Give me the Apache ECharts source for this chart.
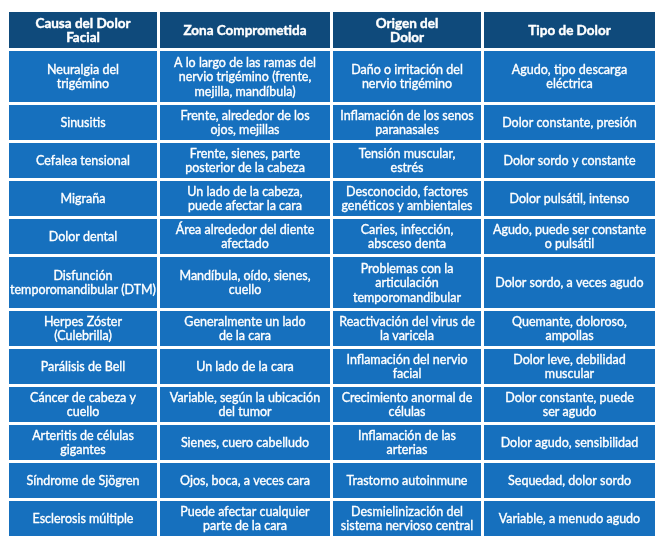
<!DOCTYPE html>
<html><head><meta charset="utf-8">
<script src="https://cdn.jsdelivr.net/npm/echarts@6/dist/echarts.min.js"></script>
<style>html,body{margin:0;padding:0;background:#fff}#c{width:669px;height:553px}</style>
</head><body><div id="c"></div>
<script>
const headers = ["Causa del Dolor\nFacial", "Zona Comprometida", "Origen del\nDolor", "Tipo de Dolor"];
const causas = ["Neuralgia del\ntrigémino","Sinusitis","Cefalea tensional","Migraña","Dolor dental","Disfunción\ntemporomandibular (DTM)","Herpes Zóster\n(Culebrilla)","Parálisis de Bell","Cáncer de cabeza y\ncuello","Arteritis de células\ngigantes","Síndrome de Sjögren","Esclerosis múltiple"];
const zonas = ["A lo largo de las ramas del\nnervio trigémino (frente,\nmejilla, mandíbula)","Frente, alrededor de los\nojos, mejillas","Frente, sienes, parte\nposterior de la cabeza","Un lado de la cabeza,\npuede afectar la cara","Área alrededor del diente\nafectado","Mandíbula, oído, sienes,\ncuello","Generalmente un lado\nde la cara","Un lado de la cara","Variable, según la ubicación\ndel tumor","Sienes, cuero cabelludo","Ojos, boca, a veces cara","Puede afectar cualquier\nparte de la cara"];
const origenes = ["Daño o irritación del\nnervio trigémino","Inflamación de los senos\nparanasales","Tensión muscular,\nestrés","Desconocido, factores\ngenéticos y ambientales","Caries, infección,\nabsceso denta","Problemas con la\narticulación\ntemporomandibular","Reactivación del virus de\nla varicela","Inflamación del nervio\nfacial","Crecimiento anormal de\ncélulas","Inflamación de las\narterias","Trastorno autoinmune","Desmielinización del\nsistema nervioso central"];
const tipos = ["Agudo, tipo descarga\neléctrica","Dolor constante, presión","Dolor sordo y constante","Dolor pulsátil, intenso","Agudo, puede ser constante\no pulsátil","Dolor sordo, a veces agudo","Quemante, doloroso,\nampollas","Dolor leve, debilidad\nmuscular","Dolor constante, puede\nser agudo","Dolor agudo, sensibilidad","Sequedad, dolor sordo","Variable, a menudo agudo"];

// layout (not data)
const colW = [148, 170, 148, 171];
const gap = 3;
const headerH = 36;
function rowH(lines){ return lines >= 3 ? 51 : 35; }

const columns = [causas, zonas, origenes, tipos];
const nRows = causas.length;
const rowHeights = [headerH];
for (let r = 0; r < nRows; r++) {
  let maxLines = 1;
  columns.forEach(c => { maxLines = Math.max(maxLines, c[r].split("\n").length); });
  rowHeights.push(rowH(maxLines));
}
const colX = []; let acc = 0;
colW.forEach(w => { colX.push(acc); acc += w + gap; });
const totalW = acc - gap;
const rowY = []; acc = 0;
rowHeights.forEach(h => { rowY.push(acc); acc += h + gap; });
const totalH = acc - gap;

const cells = [];
headers.forEach((h, c) => cells.push({ value: [c, 0], text: h, header: true }));
for (let r = 0; r < nRows; r++) columns.forEach((col, c) => cells.push({ value: [c, r + 1], text: col[r], header: false }));

const chart = echarts.init(document.getElementById('c'));
chart.setOption({
  animation: false,
  grid: { left: 9, top: 12, width: totalW, height: totalH },
  xAxis: { type: 'value', min: 0, max: totalW, show: false },
  yAxis: { type: 'value', min: 0, max: totalH, inverse: true, show: false },
  series: [{
    type: 'custom',
    data: cells,
    renderItem: function (params, api) {
      const c = api.value(0), r = api.value(1);
      const item = cells[params.dataIndex];
      const p0 = api.coord([colX[c], rowY[r]]);
      const p1 = api.coord([colX[c] + colW[c], rowY[r] + rowHeights[r]]);
      const w = p1[0] - p0[0], h = p1[1] - p0[1];
      return {
        type: 'group',
        children: [
          { type: 'rect', shape: { x: p0[0], y: p0[1], width: w, height: h },
            style: { fill: item.header ? '#0f4a7b' : '#1670be' } },
          { type: 'text', x: p0[0] + w / 2, y: p0[1] + h / 2 + 0.5,
            style: { text: item.text, fill: '#ffffff', align: 'center', verticalAlign: 'middle',
              font: (item.header ? 'bold 13.5px' : '12.5px') + ' Lato, sans-serif',
              stroke: '#ffffff', lineWidth: item.header ? 0.4 : 0.35,
              lineHeight: 14.5 } }
        ]
      };
    }
  }]
});
</script></body></html>
